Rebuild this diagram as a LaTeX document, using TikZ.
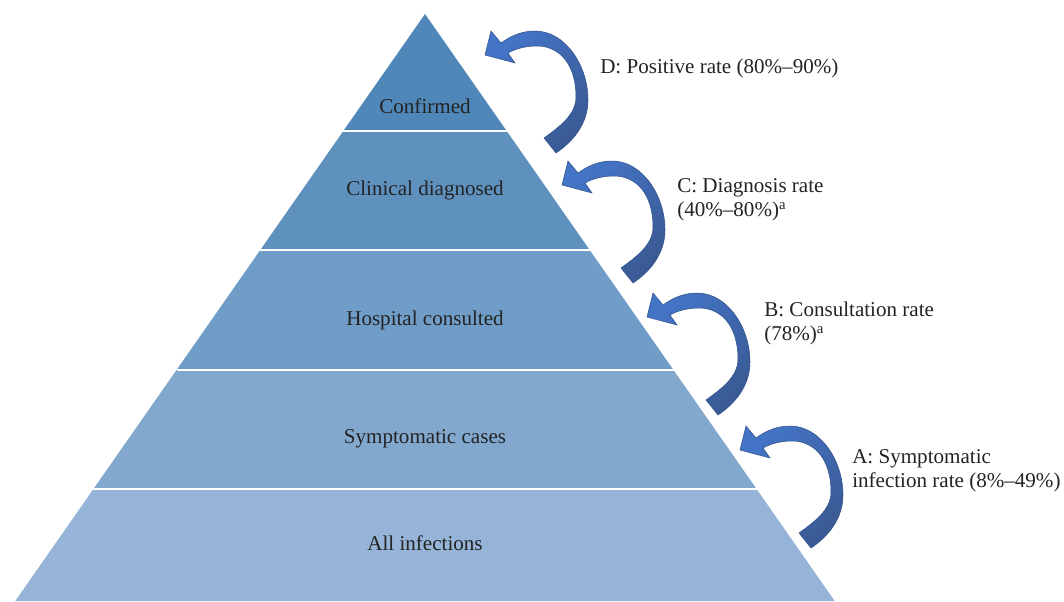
\documentclass[tikz,border=0pt]{standalone}
\usepackage{fontspec}
\setmainfont{Liberation Serif}
\usepackage{xcolor}
\usepackage{tikz}
\usetikzlibrary{positioning}

\definecolor{tierA}{RGB}{149,180,216}
\definecolor{tierB}{RGB}{130,168,206}
\definecolor{tierC}{RGB}{112,157,200}
\definecolor{tierD}{RGB}{95,145,191}
\definecolor{tierE}{RGB}{79,135,184}
\definecolor{arrowlight}{RGB}{68,116,198}
\definecolor{arrowdark}{RGB}{58,90,148}
\definecolor{arrowedge}{RGB}{50,82,140}
\definecolor{inktext}{RGB}{35,35,35}

\begin{document}
\begin{tikzpicture}[x=0.75pt,y=-0.75pt,
  every node/.style={font=\fontsize{15.8}{17.5}\selectfont,text=inktext,inner sep=0pt},
  gap/.style={white,line width=2.2pt},
  tiername/.style={anchor=base},
  rate/.style={anchor=base west,align=left},
  pics/bendarrow/.style={code={
    \path[draw=arrowedge,line width=0.4pt,top color=arrowlight,bottom color=arrowdark,shading angle=45]
      (16,-12) .. controls (27,-20) and (38,-24) .. (50,-24)
      .. controls (80,-24) and (103,10) .. (103,45)
      .. controls (103,68) and (89,86) .. (71,98)
      -- (59,83)
      .. controls (74,72) and (91,60) .. (91,42)
      .. controls (91,10) and (75,-9) .. (52,-9)
      .. controls (40,-9) and (30,-6) .. (23,-2)
      -- (30,8) -- (0,0) -- (6,-24) -- cycle;
  }}]
  \useasboundingbox (0,0) rectangle (1064,601);

  % pyramid tiers, bottom to top
  \fill[tierA] (15.3,601) -- (93.4,489) -- (756.6,489) -- (834.7,601) -- cycle;
  \fill[tierB] (93.4,489) -- (176.5,370) -- (673.5,370) -- (756.6,489) -- cycle;
  \fill[tierC] (176.5,370) -- (260.3,250) -- (589.7,250) -- (673.5,370) -- cycle;
  \fill[tierD] (260.3,250) -- (343.3,131) -- (506.7,131) -- (589.7,250) -- cycle;
  \fill[tierE] (343.3,131) -- (425,14) -- (506.7,131) -- cycle;
  \draw[gap] (93.4,489) -- (756.6,489);
  \draw[gap] (176.5,370) -- (673.5,370);
  \draw[gap] (260.3,250) -- (589.7,250);
  \draw[gap] (343.3,131) -- (506.7,131);

  \node[tiername] (allinf) at (425,550) {All infections};
  \node[tiername] (symp) at (425,443) {Symptomatic cases};
  \node[tiername] (hosp) at (425,325) {Hospital consulted};
  \node[tiername] (clin) at (425,195) {Clinical diagnosed};
  \node[tiername] (conf) at (425,113) {Confirmed};

  % curved arrows and rates
  \pic at (485,55) {bendarrow};
  \pic at (562,185) {bendarrow};
  \pic at (647,317) {bendarrow};
  \pic at (740,450) {bendarrow};

  \node[rate] (rateD) at (600,73) {D: Positive rate (80\%–90\%)};
  \node[rate] (rateC) at (677,216) {C: Diagnosis rate\\(40\%–80\%)\textsuperscript{a}};
  \node[rate] (rateB) at (764,340) {B: Consultation rate\\(78\%)\textsuperscript{a}};
  \node[rate] (rateA) at (852,487) {A: Symptomatic\\infection rate (8\%–49\%)};
\end{tikzpicture}
\end{document}
